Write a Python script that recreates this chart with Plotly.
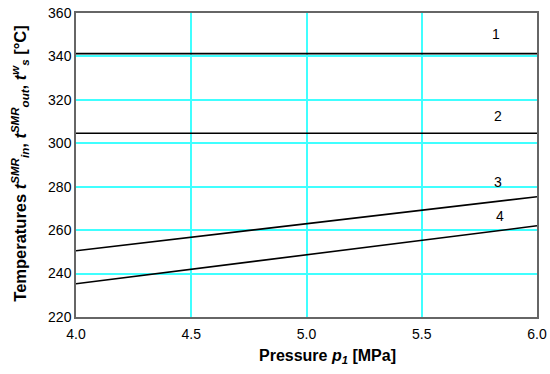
import plotly.graph_objects as go

pressure = [4.0, 6.0]
line1 = [341.3, 341.3]
line2 = [304.6, 304.6]
line3 = [250.5, 275.4]
line4 = [235.3, 262.0]
series = [line1, line2, line3, line4]
labels = ["1", "2", "3", "4"]
label_x = [5.82, 5.83, 5.83, 5.84]
label_y = [350.3, 312.4, 282.3, 266.5]

x_title = "<b>Pressure <i>p</i><sub><i>1</i></sub> [MPa]</b>"
y_title = ("<b>Temperatures <i>t</i><sup><i>SMR</i></sup><sub><i>in</i></sub>, "
           "<i>t</i><sup><i>SMR</i></sup><sub><i>out</i></sub>, "
           "<i>t</i><sup><i>w</i></sup><sub><i>s</i></sub> [°C]</b>")

FONT = "Liberation Sans, Arial"

fig = go.Figure()
for s in series:
    fig.add_trace(go.Scatter(x=pressure, y=s, mode="lines",
                             line=dict(color="black", width=1.6),
                             showlegend=False, hoverinfo="skip"))
for lx, ly, lt in zip(label_x, label_y, labels):
    fig.add_annotation(x=lx, y=ly, text=lt, showarrow=False,
                       font=dict(size=14, color="black", family=FONT))

fig.add_annotation(xref="paper", yref="paper", x=0.545, y=-0.13,
                   xanchor="center", yanchor="middle", showarrow=False,
                   text=x_title, font=dict(size=16, color="black", family=FONT))
fig.add_annotation(xref="paper", yref="paper", x=-0.121, y=0.505,
                   xanchor="center", yanchor="middle", showarrow=False, textangle=-90,
                   text=y_title, font=dict(size=16.5, color="black", family=FONT))

axis_common = dict(showgrid=True, gridcolor="#40FFFF", gridwidth=1.5,
                   showline=True, linecolor="#666666", linewidth=1.5, mirror=True,
                   ticks="", zeroline=False, automargin=False,
                   tickfont=dict(size=14, color="black", family=FONT))

fig.update_xaxes(range=[4.0, 6.0], tickvals=[4.0, 4.5, 5.0, 5.5, 6.0],
                 ticktext=["4.0", "4.5", "5.0", "5.5", "6.0"],
                 ticklabelstandoff=3, **axis_common)
fig.update_yaxes(range=[220, 360], tickvals=list(range(220, 361, 20)),
                 **axis_common)

fig.update_layout(width=550, height=374,
                  margin=dict(l=76, r=13, t=13, b=57),
                  plot_bgcolor="white", paper_bgcolor="white")

fig.write_html("out.html", config={"displayModeBar": False},
               post_script="document.body.style.margin='0';document.body.style.overflow='hidden';")
